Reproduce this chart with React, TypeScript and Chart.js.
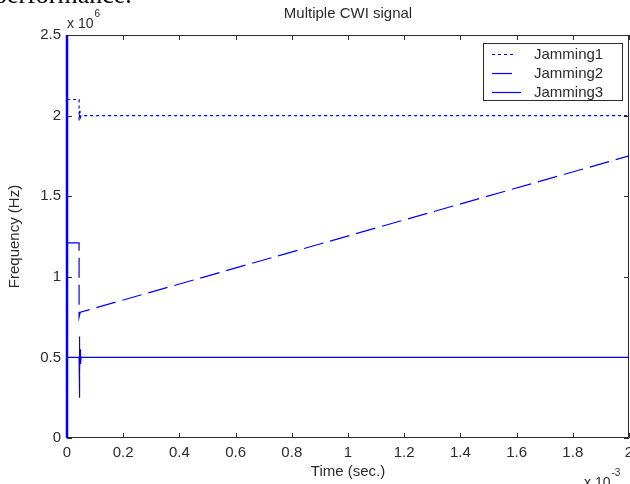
import React, { useEffect, useRef } from "react";
import { Chart, registerables } from "chart.js";

Chart.register(...registerables);

// Time in units of 10^-3 s, frequency in units of 10^6 Hz
const timeJamming1 = [0, 0.043, 0.043, 0.046, 0.048, 0.05, 2.0];
const freqJamming1 = [2.1, 2.1, 1.97, 2.03, 1.99, 2.0, 2.0];

const timeJamming2 = [0, 0.043, 0.043, 0.047, 2.0];
const freqJamming2 = [1.21, 1.21, 0.75, 0.78, 1.75];

const timeJamming3 = [0, 0, 0, 0.043, 0.043, 0.044, 0.044, 0.045, 0.046, 0.046, 0.047, 0.048, 0.05, 2.0];
const freqJamming3 = [0, 2.5, 0.5, 0.5, 0.63, 0.25, 0.6, 0.4, 0.58, 0.42, 0.55, 0.46, 0.5, 0.5];

const seriesNames = ["Jamming1", "Jamming2", "Jamming3"];
const xTicks = [0, 0.2, 0.4, 0.6, 0.8, 1, 1.2, 1.4, 1.6, 1.8, 2];
const yTicks = [0, 0.5, 1, 1.5, 2, 2.5];

const titleText = "Multiple CWI signal";
const xTitle = "Time (sec.)";
const yTitle = "Frequency (Hz)";

const BLUE = "#0000ff";
const INK = "#2b2b2b";
const FONT = "'Liberation Sans', Arial, sans-serif";
const FS = 15;
const LW = 1.2;

const toPoints = (xs: number[], ys: number[]) => xs.map((x, i) => ({ x, y: ys[i] }));

const dashes: number[][] = [[3, 3], [20, 7], []];
const legendLen = [24, 21, 29];

const matlabAxesPlugin = {
  id: "matlabAxes",
  beforeDatasetsDraw(chart: any) {
    const { ctx, chartArea: a, scales } = chart;
    const tl = 5;
    ctx.save();
    ctx.strokeStyle = INK;
    ctx.lineWidth = 1;
    ctx.beginPath();
    ctx.rect(a.left + 0.5, a.top + 0.5, a.right - a.left - 1, a.bottom - a.top - 1);
    for (const v of xTicks) {
      const px = Math.round(scales.x.getPixelForValue(v)) + 0.5;
      ctx.moveTo(px, a.bottom);
      ctx.lineTo(px, a.bottom - tl);
      ctx.moveTo(px, a.top);
      ctx.lineTo(px, a.top + tl);
    }
    for (const v of yTicks) {
      const py = Math.round(scales.y.getPixelForValue(v)) + 0.5;
      ctx.moveTo(a.left, py);
      ctx.lineTo(a.left + tl, py);
      ctx.moveTo(a.right, py);
      ctx.lineTo(a.right - tl, py);
    }
    ctx.stroke();
    ctx.restore();
  },
  afterDraw(chart: any) {
    const { ctx, chartArea: a } = chart;
    const cx = (a.left + a.right) / 2;
    ctx.save();
    ctx.fillStyle = INK;
    ctx.font = `${FS}px ${FONT}`;

    // title
    ctx.textAlign = "center";
    ctx.textBaseline = "alphabetic";
    ctx.fillText(titleText, cx, 18);

    // x axis title
    ctx.textBaseline = "middle";
    ctx.fillText(xTitle, cx, 472);

    // y axis title
    ctx.save();
    ctx.translate(15, (a.top + a.bottom) / 2);
    ctx.rotate(-Math.PI / 2);
    ctx.fillText(yTitle, 0, 0);
    ctx.restore();

    // exponent labels
    ctx.textAlign = "left";
    ctx.textBaseline = "alphabetic";
    ctx.font = `${FS - 1}px ${FONT}`;
    ctx.fillText("x 10", a.left, a.top - 7);
    const w6 = ctx.measureText("x 10").width;
    ctx.font = `10px ${FONT}`;
    ctx.fillText("6", a.left + w6 + 1, a.top - 18);

    ctx.font = `${FS - 1}px ${FONT}`;
    ctx.fillText("x 10", a.right - 45, 487);
    const w3 = ctx.measureText("x 10").width;
    ctx.font = `10px ${FONT}`;
    ctx.fillText("-3", a.right - 45 + w3 + 1, 476);

    // legend
    const lx = a.right - 146;
    const ly = a.top + 8;
    const lw = 140;
    const lh = 58;
    ctx.fillStyle = "#ffffff";
    ctx.fillRect(lx, ly, lw, lh);
    ctx.strokeStyle = INK;
    ctx.lineWidth = 1;
    ctx.strokeRect(lx + 0.5, ly + 0.5, lw - 1, lh - 1);
    chart.data.datasets.forEach((ds: any, i: number) => {
      const y = Math.round(ly + 11 + i * 19) + 0.5;
      ctx.strokeStyle = BLUE;
      ctx.lineWidth = LW;
      ctx.setLineDash(dashes[i]);
      ctx.beginPath();
      ctx.moveTo(lx + 9, y);
      ctx.lineTo(lx + 9 + legendLen[i], y);
      ctx.stroke();
      ctx.setLineDash([]);
      ctx.fillStyle = INK;
      ctx.font = `${FS}px ${FONT}`;
      ctx.textAlign = "left";
      ctx.textBaseline = "middle";
      ctx.fillText(ds.label, lx + 51, y);
    });
    ctx.restore();
  },
};

export default function App() {
  const canvasRef = useRef<HTMLCanvasElement | null>(null);

  useEffect(() => {
    const canvas = canvasRef.current;
    if (!canvas) return;
    const series = [
      toPoints(timeJamming1, freqJamming1),
      toPoints(timeJamming2, freqJamming2),
      toPoints(timeJamming3, freqJamming3),
    ];
    const chart = new Chart(canvas, {
      type: "line",
      data: {
        datasets: series.map((pts, i) => ({
          label: seriesNames[i],
          data: pts,
          borderColor: BLUE,
          borderWidth: LW,
          borderDash: dashes[i],
          pointRadius: 0,
          tension: 0,
          fill: false,
          clip: i === 2 ? false : undefined,
          segment:
            i === 2
              ? {
                  borderWidth: (c: any) =>
                    c.p0.parsed.x === 0 && c.p1.parsed.x === 0 ? 2.5 : LW,
                }
              : undefined,
        })) as any,
      },
      options: {
        responsive: false,
        animation: false,
        devicePixelRatio: 1,
        layout: { padding: { left: 0, top: 35, right: 1, bottom: 0 } },
        plugins: {
          legend: { display: false },
          title: { display: false },
          tooltip: { enabled: false },
        },
        scales: {
          x: {
            type: "linear",
            min: 0,
            max: 2,
            grid: { display: false, drawTicks: false },
            border: { display: false },
            afterBuildTicks: (s: any) => {
              s.ticks = xTicks.map((v) => ({ value: v }));
            },
            afterFit: (s: any) => {
              s.height = 46;
              s.paddingLeft = 0;
              s.paddingRight = 0;
            },
            ticks: {
              autoSkip: false,
              maxRotation: 0,
              padding: 6,
              color: INK,
              font: { family: FONT, size: FS },
              callback: (v: any) => String(Number(Number(v).toFixed(2))),
            },
          },
          y: {
            type: "linear",
            min: 0,
            max: 2.5,
            grid: { display: false, drawTicks: false },
            border: { display: false },
            afterBuildTicks: (s: any) => {
              s.ticks = yTicks.map((v) => ({ value: v }));
            },
            afterFit: (s: any) => {
              s.width = 67;
              s.paddingTop = 0;
              s.paddingBottom = 0;
            },
            ticks: {
              autoSkip: false,
              padding: 6,
              color: INK,
              font: { family: FONT, size: FS },
              callback: (v: any) => String(Number(Number(v).toFixed(2))),
            },
          },
        },
      },
      plugins: [matlabAxesPlugin],
    });
    return () => chart.destroy();
  }, []);

  return (
    <div
      style={{
        position: "fixed",
        left: 0,
        top: 0,
        width: 630,
        height: 484,
        overflow: "hidden",
        background: "#ffffff",
      }}
    >
      <canvas ref={canvasRef} width={630} height={484} style={{ display: "block" }} />
      <div
        style={{
          position: "absolute",
          left: -6,
          top: -18,
          fontFamily: "'Liberation Serif', 'Times New Roman', serif",
          fontSize: 26,
          lineHeight: "26px",
          color: "#000",
          whiteSpace: "nowrap",
        }}
      >
        performance.
      </div>
    </div>
  );
}
